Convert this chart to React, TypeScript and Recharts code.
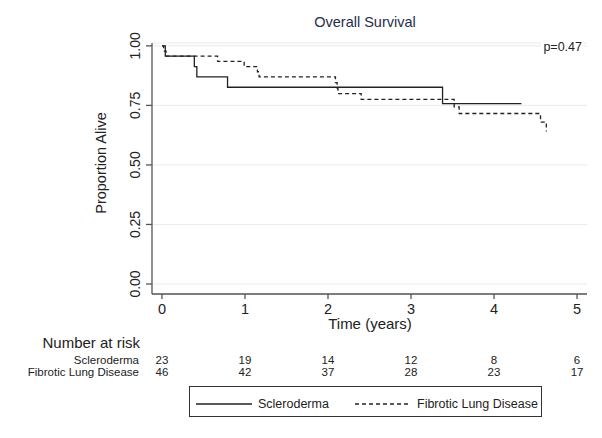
import { LineChart, Line, XAxis, YAxis, CartesianGrid } from "recharts"

// Kaplan-Meier steps
const sclTimes = [0, 0.04, 0.39, 0.42, 0.79, 3.38, 4.33]
const sclSurv = [1, 0.9565, 0.913, 0.8696, 0.8261, 0.7572, 0.7572]
const fldTimes = [0, 0.02, 0.05, 0.67, 0.99, 1.15, 1.17, 2.09, 2.11, 2.12, 2.4, 3.52, 3.58, 4.56, 4.63]
const fldSurv = [1, 0.978, 0.9565, 0.9348, 0.913, 0.8913, 0.8696, 0.846, 0.823, 0.799, 0.775, 0.744, 0.716, 0.68, 0.64]

const timeTicks = [0, 1, 2, 3, 4, 5]
const survTicks = [0, 0.25, 0.5, 0.75, 1]
const riskScl = [23, 19, 14, 12, 8, 6]
const riskFld = [46, 42, 37, 28, 23, 17]
const groups = ["Scleroderma", "Fibrotic Lung Disease"]

const sclData = sclTimes.map((t, i) => ({ t, s: sclSurv[i] }))
const fldData = fldTimes.map((t, i) => ({ t, s: fldSurv[i] }))

const FONT = '"Liberation Sans", Arial, Helvetica, sans-serif'
const INK = "#222"

function TimeTick(props: any) {
  const { x, y, payload, index } = props
  return (
    <g fontFamily={FONT} fill={INK}>
      <text x={x} y={y + 13} textAnchor="middle" fontSize={14.5}>
        {payload.value}
      </text>
      <text x={x} y={y + 63} textAnchor="middle" fontSize={11.5}>
        {riskScl[index]}
      </text>
      <text x={x} y={y + 75} textAnchor="middle" fontSize={11.5}>
        {riskFld[index]}
      </text>
    </g>
  )
}

function SurvTick(props: any) {
  const { x, y, payload } = props
  const bx = x - 4
  return (
    <text
      x={bx}
      y={y}
      transform={`rotate(-90 ${bx} ${y})`}
      textAnchor="middle"
      fontSize={14}
      fontFamily={FONT}
      fill={INK}
    >
      {payload.value.toFixed(2)}
    </text>
  )
}

export default function App() {
  return (
    <div style={{ position: "absolute", left: 0, top: 0, width: 602, height: 438, background: "#fff" }}>
      <LineChart width={602} height={438} margin={{ top: 43, right: 15, left: 0, bottom: 0 }}>
        <CartesianGrid vertical={false} stroke="#ebebeb" strokeWidth={1} />
        <XAxis
          dataKey="t"
          type="number"
          domain={[-0.12, 5.12]}
          ticks={timeTicks}
          allowDataOverflow
          height={144}
          tickSize={5}
          stroke="#555"
          strokeWidth={1.3}
          tick={TimeTick}
        />
        <YAxis
          type="number"
          domain={[-0.042, 1.012]}
          ticks={survTicks}
          allowDataOverflow
          width={152}
          tickSize={6}
          stroke="#555"
          strokeWidth={1.3}
          tick={SurvTick}
        />
        <Line
          data={sclData}
          dataKey="s"
          type="stepAfter"
          stroke="#222"
          strokeWidth={1.3}
          dot={false}
          activeDot={false}
          isAnimationActive={false}
        />
        <Line
          data={fldData}
          dataKey="s"
          type="stepAfter"
          stroke="#222"
          strokeWidth={1.3}
          strokeDasharray="4 3"
          dot={false}
          activeDot={false}
          isAnimationActive={false}
        />
      </LineChart>
      <svg
        width={602}
        height={438}
        style={{ position: "absolute", left: 0, top: 0, pointerEvents: "none" }}
        fontFamily={FONT}
      >
        <text x={365} y={27} textAnchor="middle" fontSize={14.5} fill="#1f2d4d">
          Overall Survival
        </text>
        <rect x={541} y={40} width={43} height={14} fill="#fff" />
        <text x={582} y={51} textAnchor="end" fontSize={12.5} fill={INK}>
          p=0.47
        </text>
        <text x={106} y={163} transform="rotate(-90 106 163)" textAnchor="middle" fontSize={14.5} fill={INK}>
          Proportion Alive
        </text>
        <text x={370} y={329} textAnchor="middle" fontSize={15} fill={INK}>
          Time (years)
        </text>
        <text x={140} y={348} textAnchor="end" fontSize={15} fill={INK}>
          Number at risk
        </text>
        <text x={139} y={364} textAnchor="end" fontSize={11.5} fill={INK}>
          {groups[0]}
        </text>
        <text x={139} y={376} textAnchor="end" fontSize={11.5} fill={INK}>
          {groups[1]}
        </text>
        <rect x={189.5} y={386.5} width={352} height={30} fill="#fff" stroke="#333" strokeWidth={1} />
        <line x1={196} x2={252} y1={404} y2={404} stroke="#222" strokeWidth={1.3} />
        <text x={258} y={408} fontSize={12.5} fill={INK}>
          {groups[0]}
        </text>
        <line x1={355} x2={411} y1={404} y2={404} stroke="#222" strokeWidth={1.3} strokeDasharray="4 3" />
        <text x={417} y={408} fontSize={12.5} fill={INK}>
          {groups[1]}
        </text>
      </svg>
    </div>
  )
}
